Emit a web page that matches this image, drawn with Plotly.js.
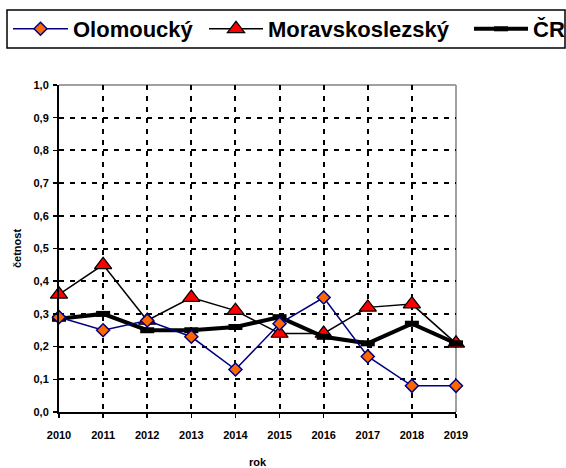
<!DOCTYPE html>
<html>
<head>
<meta charset="utf-8">
<script src="https://cdn.plot.ly/plotly-3.0.1.min.js"></script>
<style>html,body{margin:0;padding:0;background:#fff;}#chart{width:566px;height:468px;}</style>
</head>
<body>
<div id="chart"></div>
<script>
var years = [2010, 2011, 2012, 2013, 2014, 2015, 2016, 2017, 2018, 2019];
var olomoucky = [0.29, 0.25, 0.28, 0.23, 0.13, 0.27, 0.35, 0.17, 0.08, 0.08];
var moravskoslezsky = [0.36, 0.45, 0.28, 0.35, 0.31, 0.24, 0.24, 0.32, 0.33, 0.21];
var cr = [0.285, 0.30, 0.25, 0.25, 0.26, 0.29, 0.23, 0.21, 0.27, 0.21];
var seriesNames = ['Olomoucký', 'Moravskoslezský', 'ČR'];
var xTitle = 'rok';
var yTitle = 'četnost';

var W = 566, H = 468;
var mL = 59, mR = 110, mT = 85, mB = 56;
var pw = W - mL - mR, ph = H - mT - mB;
function px(x) { return (x - mL) / pw; }
function py(y) { return (H - mB - y) / ph; }

var FONT = 'Liberation Sans, Arial, sans-serif';

var traceMor = {
  x: years, y: moravskoslezsky, name: seriesNames[1], type: 'scatter', mode: 'lines+markers',
  line: {color: '#000000', width: 1.5},
  marker: {symbol: 'triangle-up', size: 15, color: '#FF0000', line: {color: '#000000', width: 1.2}},
  cliponaxis: false, legend: 'legend2'
};
var traceCR = {
  x: years, y: cr, name: seriesNames[2], type: 'scatter', mode: 'lines+markers',
  line: {color: '#000000', width: 4},
  marker: {symbol: 'line-ew', size: 10, color: '#000000', line: {color: '#000000', width: 6}},
  cliponaxis: false, legend: 'legend3'
};
var traceOlo = {
  x: years, y: olomoucky, name: seriesNames[0], type: 'scatter', mode: 'lines+markers',
  line: {color: '#000080', width: 1.5},
  marker: {symbol: 'diamond', size: 10, color: '#FF6600', line: {color: '#000080', width: 1.5}},
  cliponaxis: false, legend: 'legend'
};

var legFont = {family: FONT, size: 22, color: '#000000', weight: 'bold'};
function leg(xp, iw) {
  return {
    orientation: 'h', x: px(xp), xanchor: 'left', y: py(29), yanchor: 'middle',
    font: legFont, bgcolor: 'rgba(0,0,0,0)', borderwidth: 0, itemwidth: iw
  };
}

var layout = {
  width: W, height: H,
  margin: {l: mL, r: mR, t: mT, b: mB, autoexpand: false},
  paper_bgcolor: '#ffffff', plot_bgcolor: '#ffffff',
  separators: ', ',
  font: {family: FONT, color: '#000000'},
  showlegend: true,
  legend: leg(8, 55),
  legend2: leg(204, 54),
  legend3: leg(469, 54),
  xaxis: {
    range: [2010, 2019], dtick: 1, tick0: 2010, tickformat: 'd',
    showgrid: true, gridcolor: '#000000', gridwidth: 2, griddash: '5px,6px',
    showline: true, linecolor: '#000000', linewidth: 2,
    ticks: 'outside', ticklen: 4, tickwidth: 1.5, tickcolor: '#000000',
    tickfont: {family: FONT, size: 11, weight: 'bold', color: '#000000'},
    ticklabelstandoff: 8,
    zeroline: false, fixedrange: true,
    title: {text: xTitle, font: {family: FONT, size: 11, weight: 'bold', color: '#000000'}, standoff: 19}
  },
  yaxis: {
    range: [0, 1], dtick: 0.1, tick0: 0, tickformat: '.1f',
    showgrid: true, gridcolor: '#000000', gridwidth: 2, griddash: '5px,6px',
    showline: true, linecolor: '#000000', linewidth: 2,
    ticks: 'outside', ticklen: 4, tickwidth: 1.5, tickcolor: '#000000',
    tickfont: {family: FONT, size: 11, weight: 'bold', color: '#000000'},
    ticklabelstandoff: 2,
    zeroline: false, fixedrange: true,
    title: {text: yTitle, font: {family: FONT, size: 11, weight: 'bold', color: '#000000'}, standoff: 10}
  },
  shapes: [
    {type: 'line', xref: 'paper', yref: 'paper', x0: 0, x1: 1, y0: 1, y1: 1, layer: 'below',
     line: {color: '#A0A0A0', width: 2}},
    {type: 'line', xref: 'paper', yref: 'paper', x0: 1, x1: 1, y0: 0, y1: 1, layer: 'below',
     line: {color: '#A0A0A0', width: 2}},
    {type: 'rect', xref: 'paper', yref: 'paper', x0: px(7), x1: px(565), y0: py(10), y1: py(48),
     line: {color: '#000000', width: 1.5}, fillcolor: 'rgba(0,0,0,0)'}
  ]
};

Plotly.newPlot('chart', [traceMor, traceCR, traceOlo], layout, {staticPlot: true, displayModeBar: false});
</script>
</body>
</html>
